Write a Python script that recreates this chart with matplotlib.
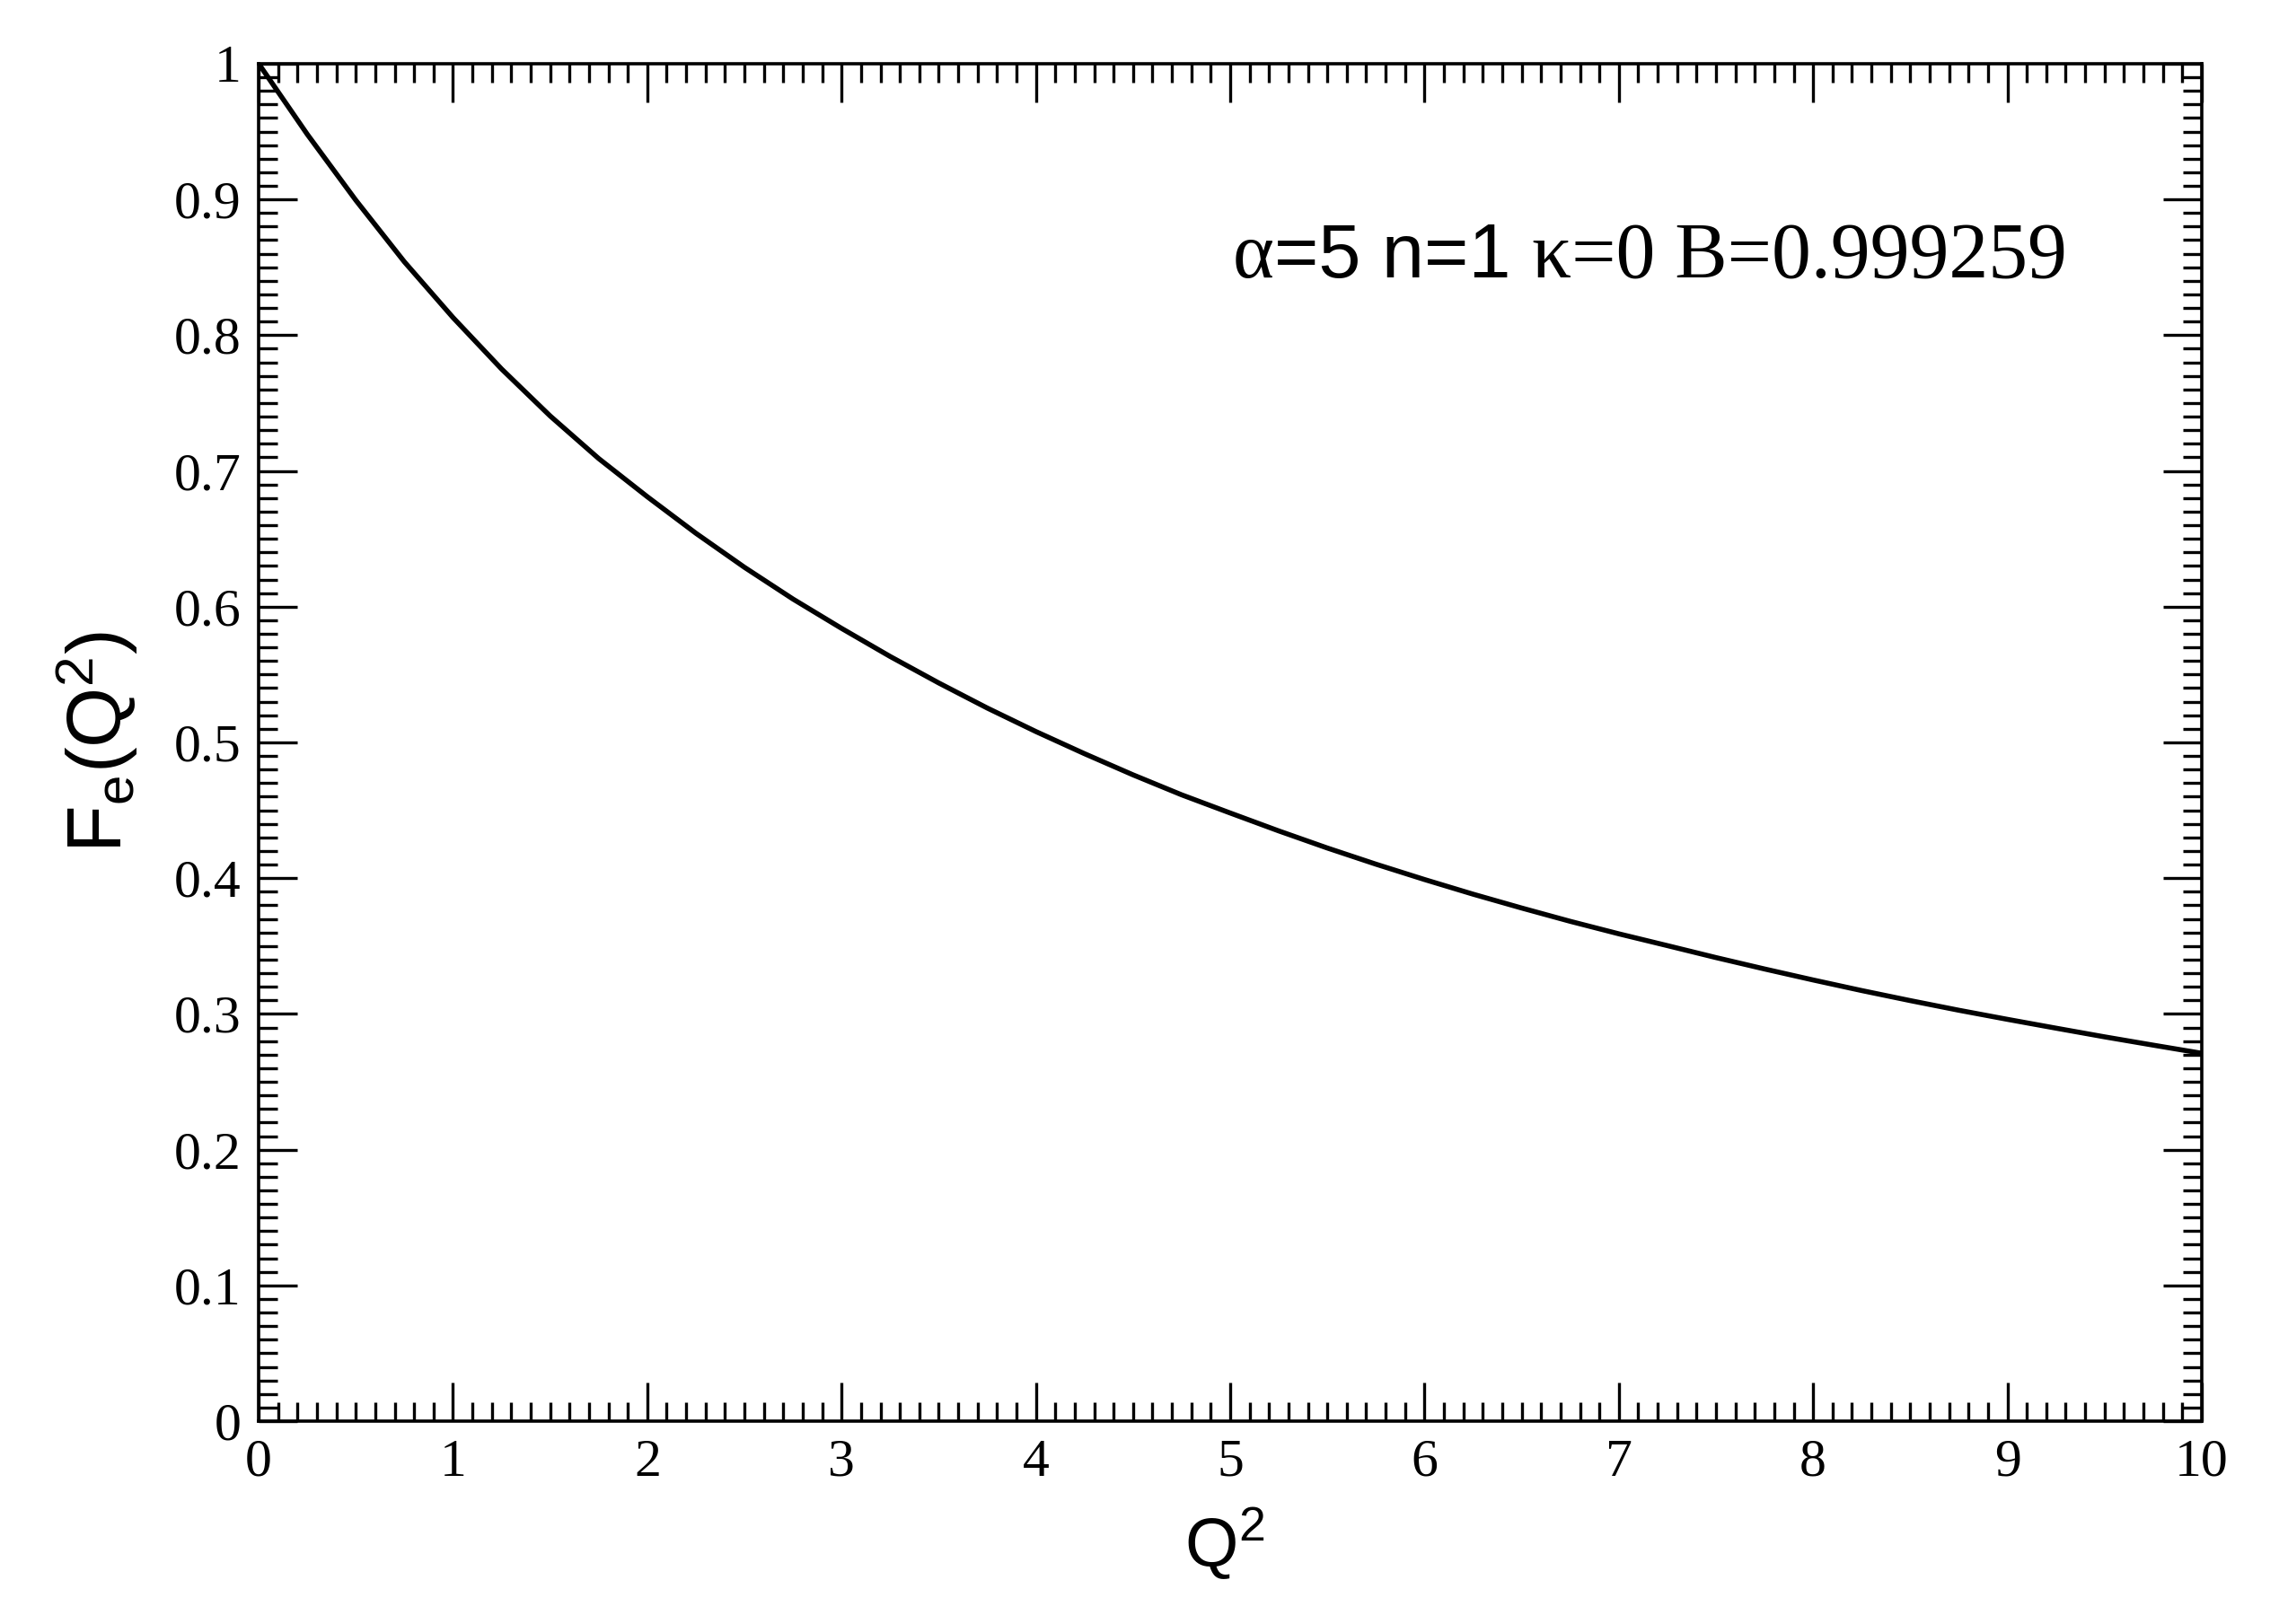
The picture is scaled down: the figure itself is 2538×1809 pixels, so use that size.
import numpy as np
import matplotlib
matplotlib.use("Agg")
import matplotlib.pyplot as plt
from matplotlib.ticker import MultipleLocator
from matplotlib.offsetbox import TextArea, HPacker, AnnotationBbox

# ---- 数据（从图上读取，每 0.25 取一点） ----
q2 = [0, 0.25, 0.5, 0.75, 1, 1.25, 1.5, 1.75, 2, 2.25, 2.5, 2.75, 3,
      3.25, 3.5, 3.75, 4, 4.25, 4.5, 4.75, 5, 5.25, 5.5, 5.75, 6,
      6.25, 6.5, 6.75, 7, 7.25, 7.5, 7.75, 8, 8.25, 8.5, 8.75, 9,
      9.25, 9.5, 9.75, 10]
fe = [1.0000, 0.9480, 0.8994, 0.8540, 0.8130, 0.7751, 0.7405, 0.7091, 0.6810,
      0.6541, 0.6290, 0.6056, 0.5840, 0.5633, 0.5438, 0.5253, 0.5080, 0.4917,
      0.4761, 0.4614, 0.4480, 0.4348, 0.4222, 0.4103, 0.3990, 0.3882, 0.3780,
      0.3682, 0.3590, 0.3503, 0.3415, 0.3331, 0.3250, 0.3172, 0.3098, 0.3027,
      0.2960, 0.2895, 0.2831, 0.2770, 0.2710]

x_ticks = np.arange(0, 11, 1)
y_ticks = np.round(np.arange(0, 1.01, 0.1), 1)
y_ticklabels = ["0", "0.1", "0.2", "0.3", "0.4", "0.5", "0.6", "0.7", "0.8", "0.9", "1"]

# ---- 样式 ----
plt.rcParams['mathtext.default'] = 'regular'
serif = 'Liberation Serif'
sans = 'Liberation Sans'

fig = plt.figure(figsize=(25.38, 18.09), dpi=100)
ax = fig.add_axes([0.1135, 0.1249, 0.8526, 0.8359])

ax.plot(q2, fe, color='black', linewidth=4.0, solid_joinstyle='round')

ax.set_xlim(0, 10)
ax.set_ylim(0, 1)
ax.set_xticks(x_ticks)
ax.set_xticklabels([str(v) for v in x_ticks])
ax.set_yticks(y_ticks)
ax.set_yticklabels(y_ticklabels)
ax.xaxis.set_minor_locator(MultipleLocator(0.1))
ax.yaxis.set_minor_locator(MultipleLocator(0.01))

ax.tick_params(which='both', direction='in', top=True, right=True,
               width=2.4, color='black')
ax.tick_params(which='major', length=31, pad=14, labelsize=43)
ax.tick_params(which='minor', length=15)
for lab in ax.get_xticklabels() + ax.get_yticklabels():
    lab.set_fontfamily(serif)

for sp in ax.spines.values():
    sp.set_linewidth(2.6)

ax.set_xlabel('Q$^{2}$', fontfamily=sans, fontsize=55)
ax.set_ylabel('F$_{e}$(Q$^{2}$)', fontfamily=sans, fontsize=62)
ax.xaxis.set_label_coords(0.497, -0.062)
ax.yaxis.set_label_coords(-0.061, 0.5)

# ---- 注释文字（混合字体） ----
parts = [
    TextArea('α', textprops=dict(fontfamily=serif, fontsize=63)),
    TextArea('=5 n=1 ', textprops=dict(fontfamily=sans, fontsize=61)),
    TextArea('κ=0 B=0.999259', textprops=dict(fontfamily=serif, fontsize=63)),
]
box = HPacker(children=parts, align='baseline', pad=0, sep=0)
ab = AnnotationBbox(box, (0.5014, 0.830), xycoords='axes fraction',
                    box_alignment=(0, 0), frameon=False, pad=0)
ax.add_artist(ab)

fig.savefig('out.png', dpi=100)
